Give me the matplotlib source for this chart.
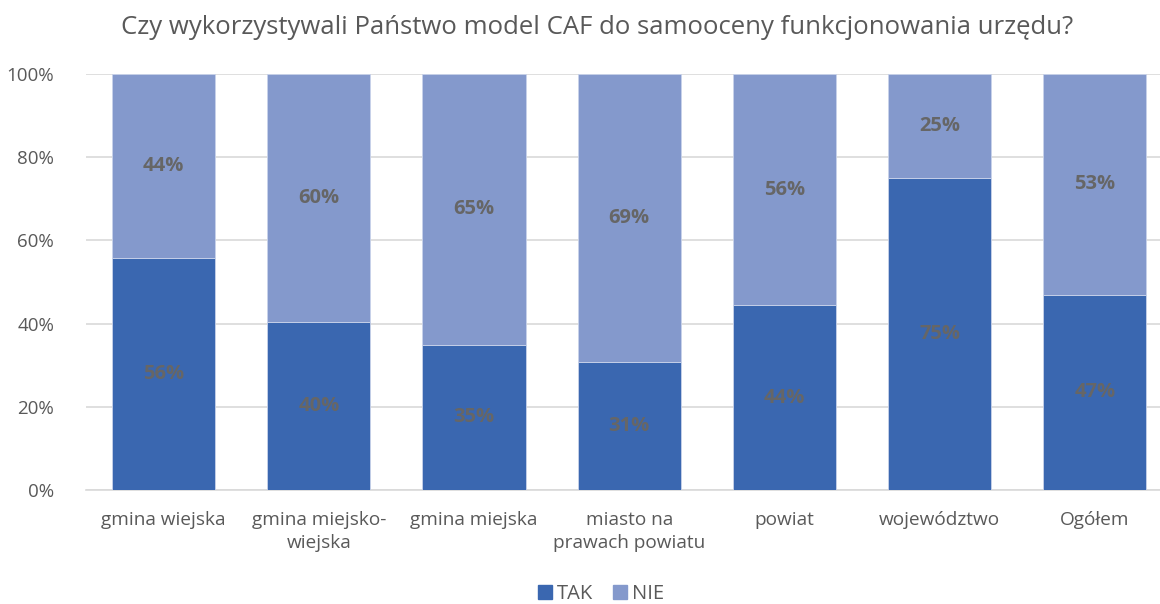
import matplotlib
matplotlib.use('Agg')
import matplotlib.pyplot as plt
from matplotlib.patches import Patch

plt.rcParams['font.family'] = ['Open Sans', 'DejaVu Sans']

categories = ['gmina wiejska', 'gmina miejsko-\nwiejska', 'gmina miejska',
              'miasto na\nprawach powiatu', 'powiat', 'województwo', 'Ogółem']
tak = [55.8, 40.4, 34.9, 30.8, 44.4, 75.0, 46.9]
nie = [44.2, 59.6, 65.1, 69.2, 55.6, 25.0, 53.1]
series_names = ['TAK', 'NIE']

TAK_COLOR = '#3a67b0'
NIE_COLOR = '#8499cc'
TEXT_GRAY = '#595959'
LABEL_GRAY = '#666666'

fig = plt.figure(figsize=(11.6, 6.04), dpi=100)
ax = fig.add_axes([86 / 1160, 1 - 490 / 604, 1 - 86 / 1160, (490 - 74) / 604])

x = list(range(len(categories)))
width = 0.665
ax.bar(x, tak, width, color=TAK_COLOR, edgecolor='#c9d3ea', linewidth=0.6, zorder=3)
ax.bar(x, nie, width, bottom=tak, color=NIE_COLOR, edgecolor='#c9d3ea', linewidth=0.6, zorder=3)

# data labels in the middle of each segment
for i in x:
    ax.text(i, tak[i] / 2, '%d%%' % round(tak[i]), ha='center', va='center',
            fontsize=14.5, fontweight='bold', color=LABEL_GRAY, zorder=4)
    ax.text(i, tak[i] + nie[i] / 2, '%d%%' % round(nie[i]), ha='center', va='center',
            fontsize=14.5, fontweight='bold', color=LABEL_GRAY, zorder=4)

ax.set_ylim(0, 100)
ax.set_xlim(-0.5, 6.42)
ax.set_yticks([0, 20, 40, 60, 80, 100])
ax.set_yticklabels(['%d%%' % v for v in [0, 20, 40, 60, 80, 100]])
ax.yaxis.grid(True, color='#d9d9d9', linewidth=1.2, zorder=0)
ax.set_axisbelow(True)
ax.set_xticks(x)
ax.set_xticklabels(categories, linespacing=1.35)
ax.tick_params(axis='x', length=0, labelsize=13.7, colors=TEXT_GRAY, pad=15)
ax.tick_params(axis='y', length=0, labelsize=13.5, colors=TEXT_GRAY, pad=23)
for spine in ['top', 'right', 'left']:
    ax.spines[spine].set_visible(False)
ax.spines['bottom'].set_color('#d9d9d9')
ax.spines['bottom'].set_linewidth(1.2)

fig.text(597 / 1160, 1 - 28 / 604, 'Czy wykorzystywali Państwo model CAF do samooceny funkcjonowania urzędu?',
         ha='center', va='center', fontsize=18.5, color=TEXT_GRAY)

handles = [Patch(color=TAK_COLOR), Patch(color=NIE_COLOR)]
fig.legend(handles, series_names, loc='center', bbox_to_anchor=(601 / 1160, 1 - 594 / 604),
           ncol=2, frameon=False, fontsize=14.5, labelcolor=TEXT_GRAY,
           handlelength=0.7, handleheight=0.7, handletextpad=0.25, columnspacing=1.0)

fig.savefig('out.png', dpi=100)
